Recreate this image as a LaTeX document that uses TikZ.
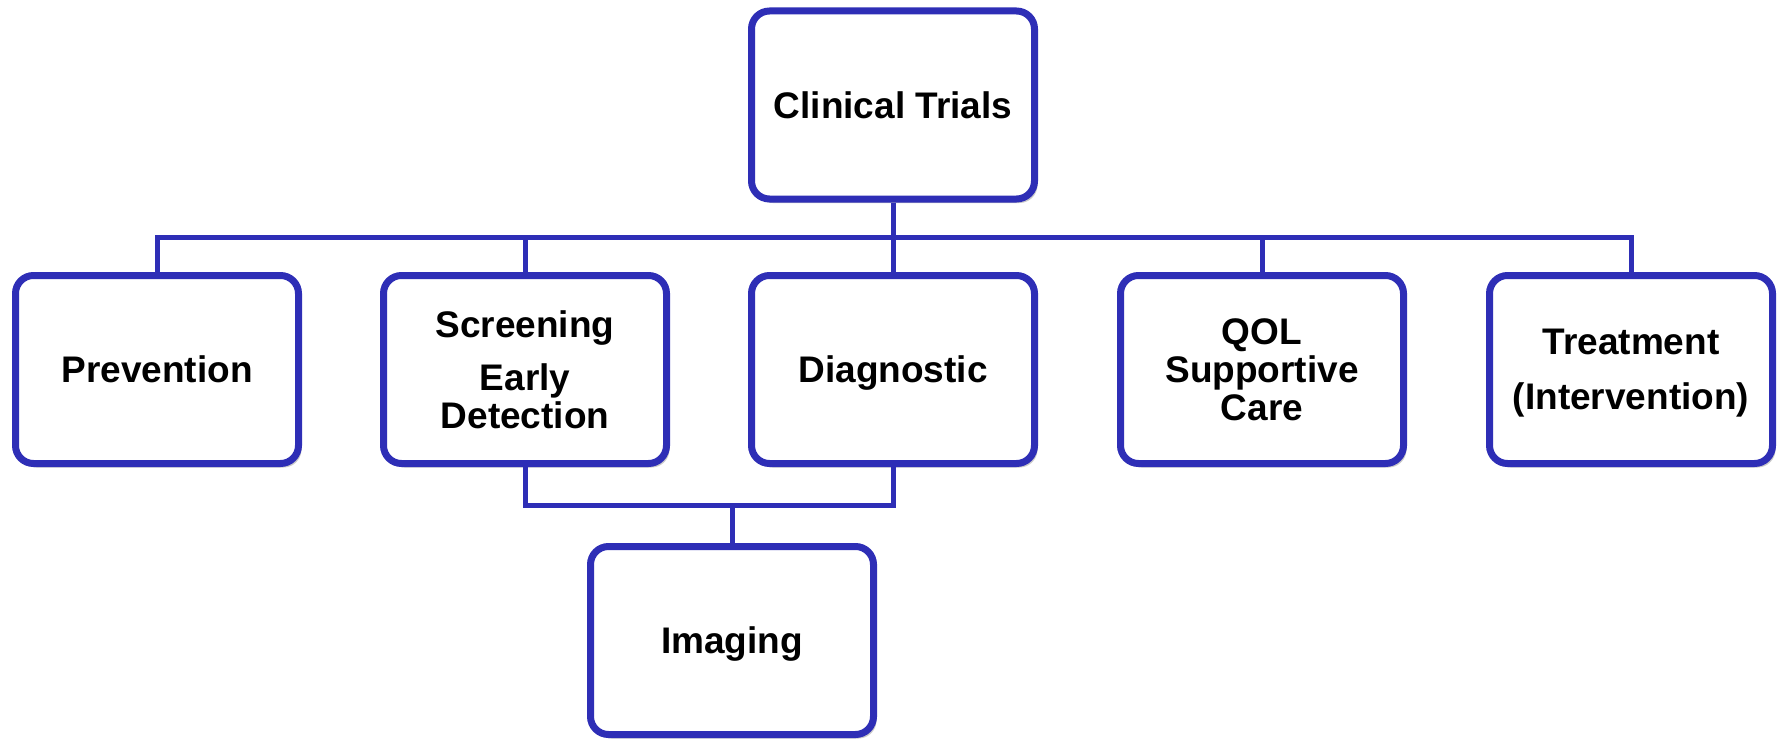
\documentclass[tikz,border=0pt]{standalone}
\usepackage{fontspec}
\setmainfont{Liberation Sans}
\usetikzlibrary{shadows}
\definecolor{boxblue}{RGB}{46,46,182}
\tikzset{
  box/.style={draw=boxblue, line width=7pt, rounded corners=18pt, fill=white,
    minimum width=283pt, minimum height=188pt, inner sep=0pt, align=center,
    text depth=0pt,
    font=\fontsize{37}{38}\selectfont\bfseries,
    drop shadow={shadow xshift=3pt, shadow yshift=-4pt, opacity=0.35, fill=black!60}},
  conn/.style={draw=boxblue, line width=5pt}
}
\begin{document}
\begin{tikzpicture}[x=1pt, y=-1pt]
  \useasboundingbox (0,0) rectangle (1782,741);
  % top of the hierarchy
  \node[box] (ct) at (893,105) {Clinical Trials};
  % first level
  \node[box] (prev) at (157,369.5) {Prevention};
  \node[box] (scr) at (525,369.5) {Screening\\[15pt]Early\\Detection};
  \node[box] (diag) at (893,369.5) {Diagnostic};
  \node[box] (qol) at (1262,369.5) {QOL\\Supportive\\Care};
  \node[box] (treat) at (1631,369.5) {Treatment\\[17pt](Intervention)};
  % second level
  \node[box] (img) at (732,640.5) {Imaging};
  % bus lines
  \coordinate (bus) at (0,237);
  \coordinate (low) at (0,505);
  \draw[conn] (ct.south) -- (ct.south |- bus);
  \draw[conn] (prev.north) -- (prev.north |- bus) -| (treat.north);
  \draw[conn] (scr.north) -- (scr.north |- bus);
  \draw[conn] (diag.north) -- (diag.north |- bus);
  \draw[conn] (qol.north) -- (qol.north |- bus);
  \draw[conn] (scr.south) -- (scr.south |- low) -| (diag.south);
  \draw[conn] (img.north) -- (img.north |- low);
\end{tikzpicture}
\end{document}
